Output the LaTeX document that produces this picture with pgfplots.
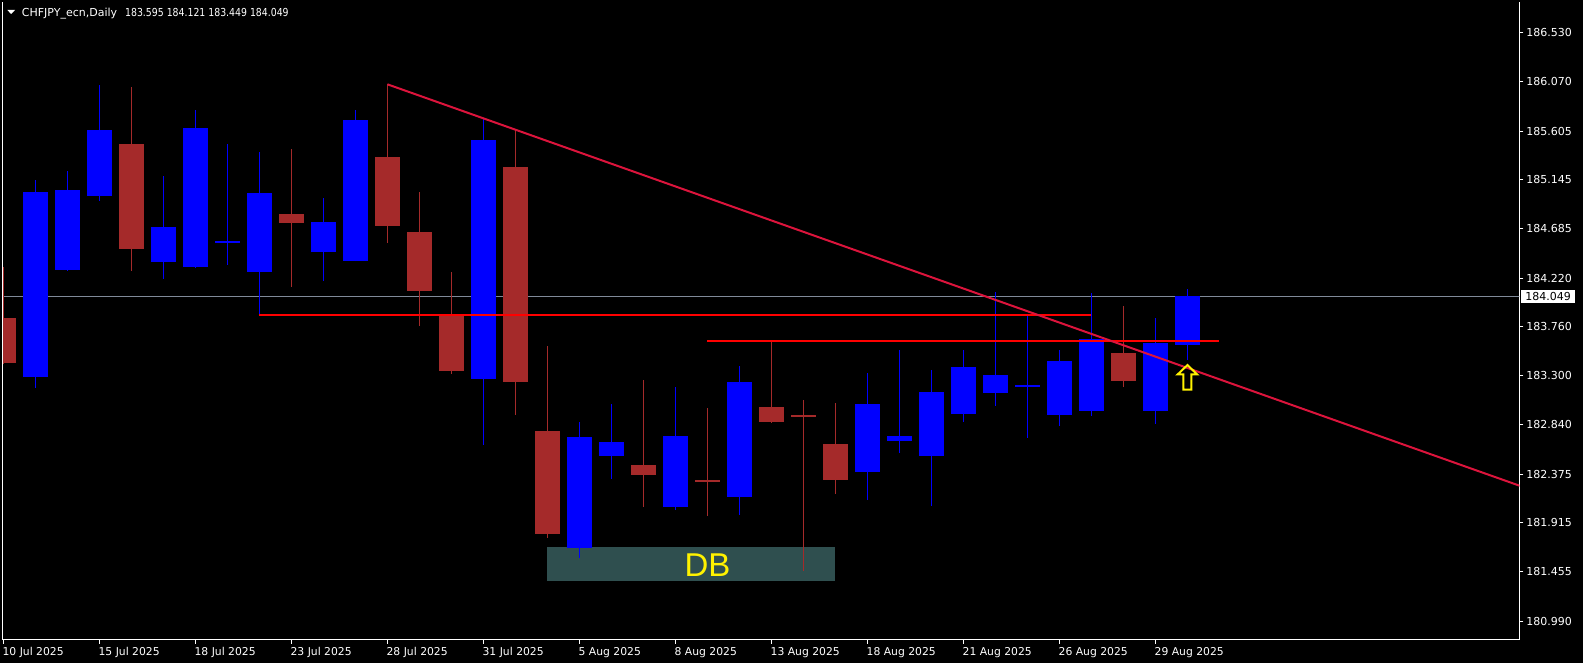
\documentclass[border=0pt]{standalone}
\usepackage{fontspec}
\setmainfont{DejaVu Sans}
\newfontfamily\lib{Liberation Sans}
\usepackage{pgfplots}
\pgfplotsset{compat=1.18}
\definecolor{bull}{RGB}{0,0,255}
\definecolor{bear}{RGB}{165,42,42}
\definecolor{trend}{RGB}{220,20,60}
\definecolor{grayline}{RGB}{128,138,153}
\definecolor{dbbox}{RGB}{47,79,79}
\pgfdeclareplotmark{uparrowmk}{%
 \pgfpathmoveto{\pgfqpoint{0pt}{12.3pt}}%
 \pgfpathlineto{\pgfqpoint{9.8pt}{2.85pt}}%
 \pgfpathlineto{\pgfqpoint{4pt}{2.85pt}}%
 \pgfpathlineto{\pgfqpoint{4pt}{-12.3pt}}%
 \pgfpathlineto{\pgfqpoint{-4pt}{-12.3pt}}%
 \pgfpathlineto{\pgfqpoint{-4pt}{2.85pt}}%
 \pgfpathlineto{\pgfqpoint{-9.8pt}{2.85pt}}%
 \pgfpathclose
 \pgfusepathqstroke}
\begin{document}
\begin{tikzpicture}
\fill[black] (0,0) rectangle (1583pt,663pt);
\begin{axis}[
  at={(2pt,23pt)}, anchor=south west,
  scale only axis, width=1517.3pt, height=638pt,
  xmin=-0.044, xmax=47.37, ymin=180.8127, ymax=186.8202,
  axis x line=bottom, axis y line=right,
  axis line style={-, white, line width=1pt},
  clip mode=individual,
  xtick={0,3,...,36},
  xticklabels={10 Jul 2025,15 Jul 2025,18 Jul 2025,23 Jul 2025,28 Jul 2025,31 Jul 2025,5 Aug 2025,8 Aug 2025,13 Aug 2025,18 Aug 2025,21 Aug 2025,26 Aug 2025,29 Aug 2025},
  ytick={180.990,181.455,181.915,182.375,182.840,183.300,183.760,184.220,184.685,185.145,185.605,186.070,186.530},
  yticklabels={180.990,181.455,181.915,182.375,182.840,183.300,183.760,184.220,184.685,185.145,185.605,186.070,186.530},
  tick align=outside, major tick length=4pt,
  tick style={white, line width=1pt},
  xticklabel style={anchor=base west, inner sep=0pt, font=\fontsize{10.8}{12}\selectfont, text=white, xshift=-1pt, yshift=-12pt},
  yticklabel style={anchor=west, inner sep=0pt, font=\fontsize{11}{13}\selectfont, text=white, xshift=3pt},
]
% DB box (background)
\addplot[fill=dbbox, draw=none, forget plot] coordinates {(17,181.368) (26,181.368) (26,181.688) (17,181.688)} --cycle;
% current price line
\addplot[grayline, line width=1pt, forget plot] coordinates {(-1,184.049) (48,184.049)};
% wicks
\addplot[bull, line width=1pt, unbounded coords=jump, forget plot] coordinates {
(1,183.189) (1,185.144) (1,nan)
(2,184.29) (2,185.229) (2,nan)
(3,184.947) (3,186.039) (3,nan)
(5,184.212) (5,185.182) (5,nan)
(6,184.32) (6,185.803) (6,nan)
(7,184.344) (7,185.483) (7,nan)
(8,183.873) (8,185.408) (8,nan)
(10,184.193) (10,184.975) (10,nan)
(11,184.38) (11,185.803) (11,nan)
(15,182.649) (15,185.725) (15,nan)
(18,181.588) (18,182.866) (18,nan)
(19,182.329) (19,183.035) (19,nan)
(21,182.037) (21,183.195) (21,nan)
(23,181.993) (23,183.393) (23,nan)
(27,182.131) (27,183.330) (27,nan)
(28,182.577) (28,183.544) (28,nan)
(29,182.075) (29,183.355) (29,nan)
(30,182.869) (30,183.544) (30,nan)
(31,183.020) (31,184.087) (31,nan)
(32,182.718) (32,183.864) (32,nan)
(33,182.831) (33,183.544) (33,nan)
(34,182.925) (34,184.080) (34,nan)
(36,182.850) (36,183.845) (36,nan)
(37,183.449) (37,184.121)};
\addplot[bear, line width=1pt, unbounded coords=jump, forget plot] coordinates {
(0,183.41) (0,184.322) (0,nan)
(4,184.288) (4,186.020) (4,nan)
(9,184.137) (9,185.436) (9,nan)
(12,184.554) (12,186.045) (12,nan)
(13,183.773) (13,185.031) (13,nan)
(14,183.321) (14,184.278) (14,nan)
(16,182.932) (16,185.615) (16,nan)
(17,181.777) (17,183.581) (17,nan)
(20,182.065) (20,183.264) (20,nan)
(22,181.984) (22,183.001) (22,nan)
(24,182.856) (24,183.622) (24,nan)
(25,181.466) (25,183.073) (25,nan)
(26,182.191) (26,183.045) (26,nan)
(35,183.198) (35,183.958)};
% bodies
\addplot[bull, line width=25pt, unbounded coords=jump, forget plot] coordinates {
(1,183.293) (1,185.031) (1,nan)
(2,184.297) (2,185.050) (2,nan)
(3,184.994) (3,185.615) (3,nan)
(5,184.372) (5,184.702) (5,nan)
(6,184.328) (6,185.634) (6,nan)
(7,184.555) (7,184.573) (7,nan)
(8,184.278) (8,185.022) (8,nan)
(10,184.466) (10,184.749) (10,nan)
(11,184.385) (11,185.709) (11,nan)
(15,183.274) (15,185.521) (15,nan)
(18,181.676) (18,182.724) (18,nan)
(19,182.549) (19,182.677) (19,nan)
(21,182.068) (21,182.734) (21,nan)
(23,182.163) (23,183.242) (23,nan)
(27,182.395) (27,183.035) (27,nan)
(28,182.690) (28,182.734) (28,nan)
(29,182.546) (29,183.148) (29,nan)
(30,182.941) (30,183.384) (30,nan)
(31,183.142) (31,183.308) (31,nan)
(32,183.199) (32,183.217) (32,nan)
(33,182.935) (33,183.440) (33,nan)
(34,182.972) (34,183.647) (34,nan)
(36,182.972) (36,183.610) (36,nan)
(37,183.595) (37,184.049)};
\addplot[bear, line width=25pt, unbounded coords=jump, forget plot] coordinates {
(0,183.424) (0,183.845) (0,nan)
(4,184.498) (4,185.483) (4,nan)
(9,184.743) (9,184.824) (9,nan)
(12,184.711) (12,185.361) (12,nan)
(13,184.102) (13,184.655) (13,nan)
(14,183.349) (14,183.873) (14,nan)
(16,183.245) (16,185.267) (16,nan)
(17,181.814) (17,182.781) (17,nan)
(20,182.370) (20,182.461) (20,nan)
(22,182.301) (22,182.319) (22,nan)
(24,182.869) (24,183.007) (24,nan)
(25,182.916) (25,182.934) (25,nan)
(26,182.320) (26,182.658) (26,nan)
(35,183.255) (35,183.515)};
% horizontal levels
\addplot[red, line width=2pt, forget plot] coordinates {(8,183.873) (34,183.873)};
\addplot[red, line width=2pt, forget plot] coordinates {(22,183.628) (38,183.628)};
% trend line
\addplot[trend, line width=2pt, forget plot] coordinates {(12,186.045) (48,182.199)};
% arrow
\addplot[only marks, mark=uparrowmk, mark options={draw=yellow, line width=2pt, line join=miter}, forget plot] coordinates {(37,183.286)};
% left frame line
\draw[white, line width=1pt] (rel axis cs:0,0) -- (rel axis cs:0,1);
% texts
\node[text=yellow, font=\lib\fontsize{33}{36}\selectfont, anchor=base, inner sep=0pt] at (axis cs:22,181.411) {DB};
\node[fill=white, text=black, inner sep=0pt, minimum width=54.6pt, minimum height=13.3pt, anchor=west, xshift=1.4pt, font=\fontsize{11}{13}\selectfont] at (axis cs:47.37,184.049) {184.049};
\end{axis}
\fill[white] (7.3pt,653pt) -- (15pt,653pt) -- (11.15pt,649pt) -- cycle;
\node[anchor=base west, inner sep=0pt, text=white, font=\fontsize{11}{13}\selectfont] at (21.7pt,646.3pt) {CHFJPY\_ecn,Daily\hspace{8pt}\scalebox{0.85}[1]{183.595 184.121 183.449 184.049}};
\pgfresetboundingbox
\path (0,0) rectangle (1583pt,663pt);
\end{tikzpicture}
\end{document}
